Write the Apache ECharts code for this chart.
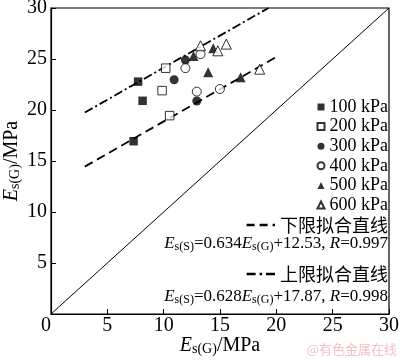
<!DOCTYPE html>
<html><head><meta charset="utf-8">
<script src="https://cdn.jsdelivr.net/npm/echarts@6/dist/echarts.min.js"></script>
<style>html,body{margin:0;padding:0;background:#fff}#c{width:400px;height:360px}</style>
</head><body><div id="c"></div>
<script>
// ---- data ----
const seriesNames = ['100 kPa', '200 kPa', '300 kPa', '400 kPa', '500 kPa', '600 kPa'];
const p100 = [[7.73, 22.78], [8.13, 20.9], [7.33, 16.94]];
const p200 = [[10.18, 24.1], [9.86, 21.9], [10.53, 19.45]];
const p300 = [[11.93, 24.9], [10.93, 22.97], [12.94, 20.88]];
const p400 = [[11.93, 24.1], [13.27, 25.48], [12.94, 21.8], [14.99, 22.06]];
const p500 = [[12.65, 25.3], [14.4, 26.06], [13.95, 23.69], [16.83, 23.2]];
const p600 = [[13.27, 26.3], [14.81, 25.8], [15.56, 26.46], [18.52, 24.0]];
const lowerFit = [[3, 14.45], [20, 25.2]];
const upperFit = [[3, 19.75], [19.3, 30]];
const diagonal = [[0, 0], [30, 30]];
const axisMin = 0, axisMax = 30, axisStep = 5;
const fitNames = ['下限拟合直线', '上限拟合直线'];
const lowerEq = ['E', 's(S)', '=0.634', 'E', 's(G)', '+12.53, ', 'R', '=0.997'];
const upperEq = ['E', 's(S)', '=0.628', 'E', 's(G)', '+17.87, ', 'R', '=0.998'];
const axisTitle = ['E', 's(G)', '/MPa'];
const watermark = '@有色金属在线';

// ---- styles ----
const SERIF = 'Liberation Serif';
const CJK = 'Noto Sans CJK SC';
const eqStyles = ['i', 's', 'n', 'i', 's', 'n', 'i', 'n'];
function eqText(parts) { return parts.map((p, k) => '{' + eqStyles[k] + '|' + p + '}').join(''); }
function richSet(size, subSize, drop) {
  return {
    i: { fontFamily: SERIF, fontStyle: 'italic', fontSize: size, lineHeight: size, verticalAlign: 'top', color: '#000' },
    n: { fontFamily: SERIF, fontSize: size, lineHeight: size, verticalAlign: 'top', color: '#000' },
    s: { fontFamily: SERIF, fontSize: subSize, lineHeight: subSize, verticalAlign: 'bottom', padding: [drop, 0, 0, 0], color: '#000' }
  };
}
const markers = [
  { symbol: 'rect', open: false, size: 8.5 },
  { symbol: 'rect', open: true, size: 8.5 },
  { symbol: 'circle', open: false, size: 9 },
  { symbol: 'circle', open: true, size: 9 },
  { symbol: 'triangle', open: false, size: 10 },
  { symbol: 'triangle', open: true, size: 10 }
];
const pointSets = [p100, p200, p300, p400, p500, p600];
const lowerIcon = 'path://M0,0h8v2.4h-8z M13,0h8v2.4h-8z M26,0h2.4v2.4h-2.4z';
const upperIcon = 'path://M0,0h9v2.4h-9z M13,0h2.4v2.4h-2.4z M19.4,0h9v2.4h-9z';

const series = pointSets.map((d, k) => ({
  name: seriesNames[k], type: 'scatter', data: d,
  symbol: markers[k].symbol, symbolSize: markers[k].size,
  itemStyle: markers[k].open ? { color: '#fff', borderColor: '#000', borderWidth: 1 } : { color: '#000', borderWidth: 0 },
  z: 5
}));
series.push({
  type: 'line', data: diagonal, symbol: 'none', silent: true,
  lineStyle: { color: '#000', width: 1 }, z: 2
});
series.push({
  name: fitNames[0], type: 'line', data: lowerFit, symbol: 'none', color: '#000',
  itemStyle: { color: '#000' },
  lineStyle: { color: '#000', width: 1.8, type: [9, 5] }, z: 3
});
series.push({
  name: fitNames[1], type: 'line', data: upperFit, symbol: 'none', color: '#000',
  itemStyle: { color: '#000' },
  lineStyle: { color: '#000', width: 1.8, type: [9, 3, 2, 3] }, z: 3
});

const axisLabelStyle = { fontFamily: SERIF, fontSize: 20, color: '#000' };
const option = {
  animation: false,
  backgroundColor: '#fff',
  grid: {
    left: 51, right: 11, top: 8, bottom: 46, containLabel: false, outerBoundsMode: 'none',
    show: true, borderColor: '#000', borderWidth: 1.2, backgroundColor: 'transparent'
  },
  xAxis: {
    type: 'value', min: axisMin, max: axisMax, interval: axisStep,
    axisLine: { lineStyle: { color: '#000', width: 1.2 } },
    axisTick: { inside: true, length: 5, lineStyle: { color: '#000' } },
    splitLine: { show: false },
    axisLabel: Object.assign({
      margin: 2,
      formatter: v => (v === axisMin ? '{z|' + v + '}' : '' + v),
      rich: { z: { fontFamily: SERIF, fontSize: 20, color: '#000', padding: [0, 10, 0, 0] } }
    }, axisLabelStyle),
    name: eqText(axisTitle), nameLocation: 'middle', nameGap: 22, nameMoveOverlap: false,
    nameTextStyle: { rich: richSet(20, 14, 8) }
  },
  yAxis: {
    type: 'value', min: axisMin, max: axisMax, interval: axisStep,
    axisLine: { lineStyle: { color: '#000', width: 1.2 } },
    axisTick: { inside: true, length: 5, lineStyle: { color: '#000' } },
    splitLine: { show: false },
    axisLabel: Object.assign({ margin: 4, showMinLabel: false }, axisLabelStyle),
    name: eqText(axisTitle), nameLocation: 'middle', nameGap: 29, nameMoveOverlap: false,
    nameTextStyle: { rich: richSet(20, 14, 8) }
  },
  legend: [
    {
      data: seriesNames, orient: 'vertical', right: 12, top: 98, padding: 0,
      itemWidth: 7, itemHeight: 7, itemGap: 1.6,
      textStyle: { fontFamily: SERIF, fontSize: 18, lineHeight: 16, color: '#000' },
      selectedMode: false
    },
    {
      data: [{ name: fitNames[0], icon: lowerIcon }], orient: 'vertical', right: 12, top: 216, padding: 0,
      itemWidth: 28.4, itemHeight: 2.4, itemGap: 0,
      textStyle: { fontFamily: CJK, fontSize: 18, lineHeight: 17, color: '#000' },
      itemStyle: { color: '#000', borderWidth: 0 },
      selectedMode: false
    },
    {
      data: [{ name: fitNames[1], icon: upperIcon }], orient: 'vertical', right: 12, top: 265, padding: 0,
      itemWidth: 28.4, itemHeight: 2.4, itemGap: 0,
      textStyle: { fontFamily: CJK, fontSize: 18, lineHeight: 17, color: '#000' },
      itemStyle: { color: '#000', borderWidth: 0 },
      selectedMode: false
    }
  ],
  graphic: [
    {
      type: 'text', x: 388, y: 244,
      style: { text: eqText(lowerEq), rich: richSet(17, 12, 9), align: 'right', verticalAlign: 'middle', fill: '#000' }
    },
    {
      type: 'text', x: 388, y: 297,
      style: { text: eqText(upperEq), rich: richSet(17, 12, 9), align: 'right', verticalAlign: 'middle', fill: '#000' }
    },
    {
      type: 'text', x: 397, y: 349,
      style: { text: watermark, font: '13px "Noto Sans CJK SC"', fill: '#f3bfc7', align: 'right', verticalAlign: 'middle' }
    }
  ],
  series: series
};
const chart = echarts.init(document.getElementById('c'), null, { renderer: 'canvas' });
chart.setOption(option);
</script>
</body></html>
